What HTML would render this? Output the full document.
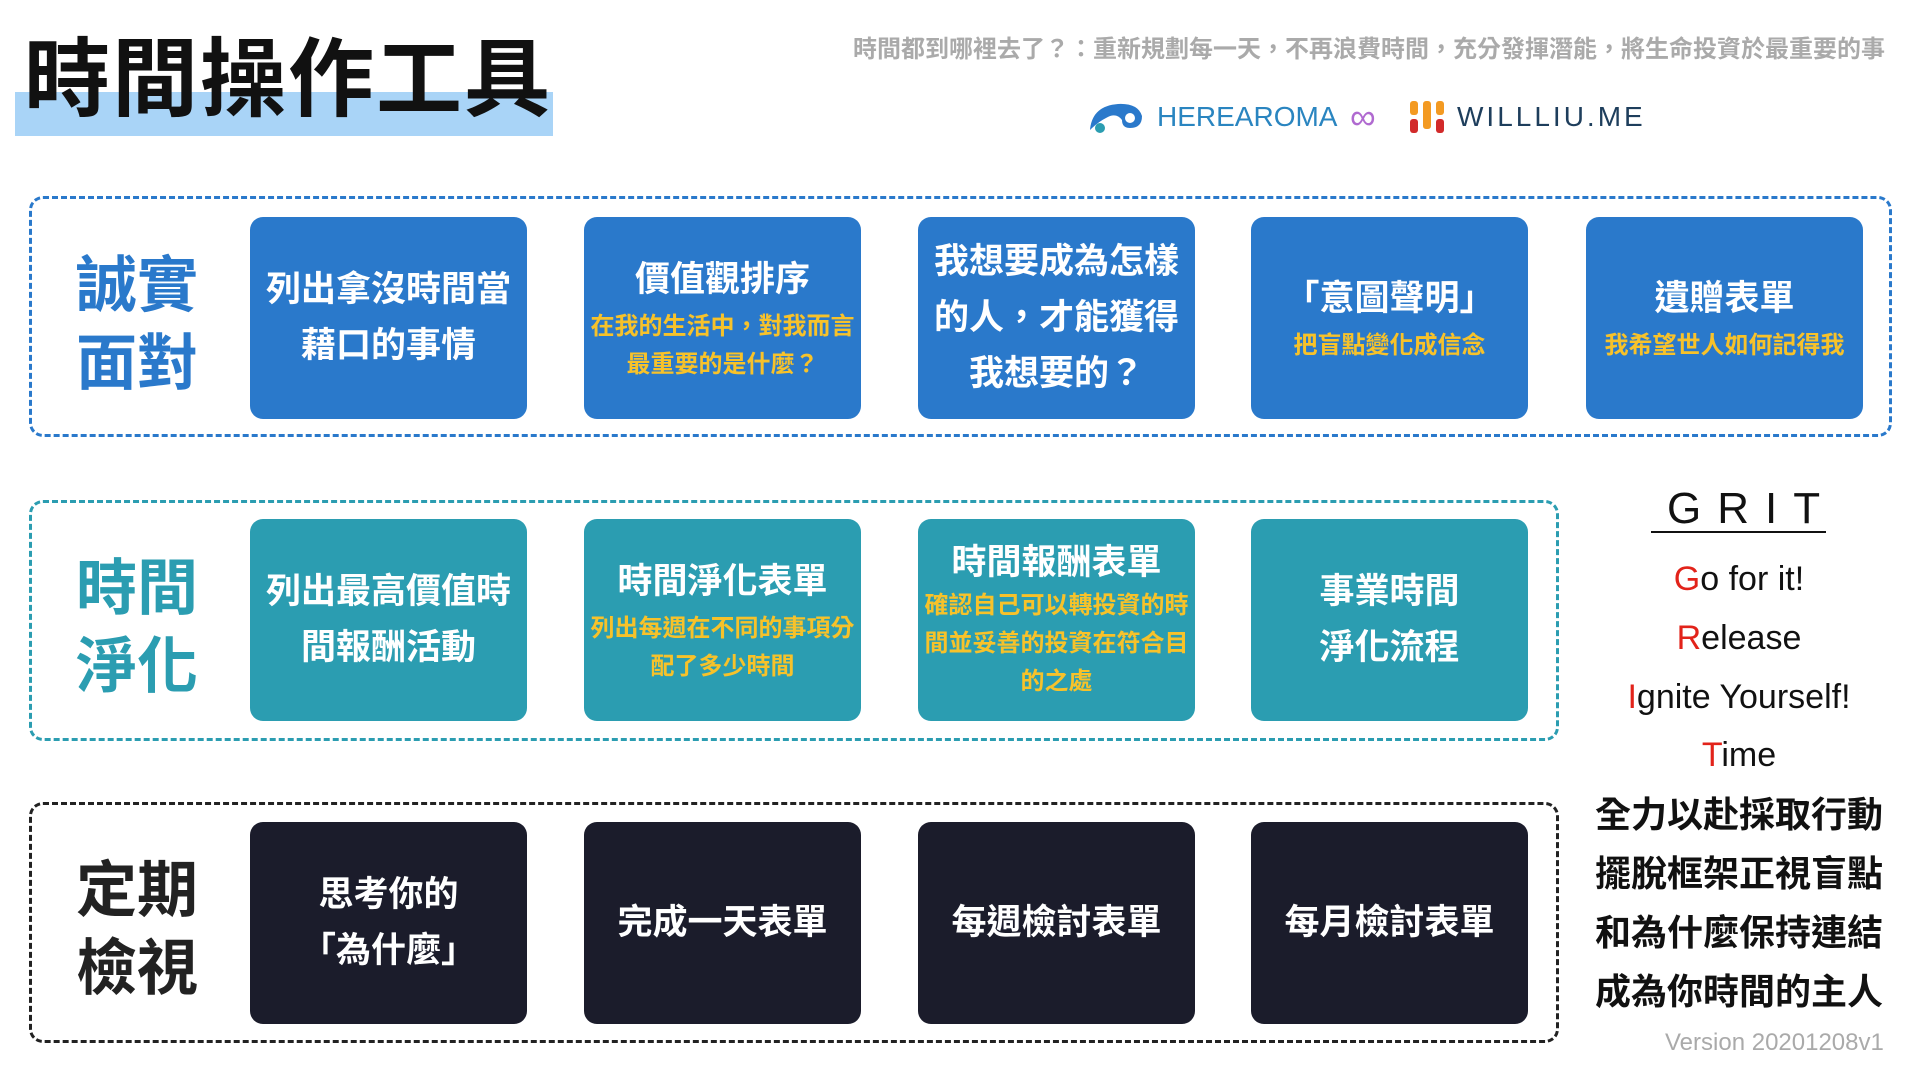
<!DOCTYPE html>
<html><head><meta charset="utf-8"><style>
*{margin:0;padding:0;box-sizing:border-box}
body{width:1920px;height:1080px;background:#fff;position:relative;overflow:hidden;font-family:"Liberation Sans","Noto Sans CJK TC",sans-serif}
.a{position:absolute}
.dash{position:absolute;border:3px dashed;border-radius:14px}
.box{position:absolute;width:277px;height:202px;border-radius:13px;color:#fff;display:flex;flex-direction:column;justify-content:center;align-items:center;text-align:center;font-weight:bold}
.m{font-size:35px;line-height:56px;white-space:nowrap}
.s{font-size:24px;line-height:38px;color:#f7c22a;white-space:nowrap}
.b{background:#2a79cb}.t{background:#2b9db1}.d{background:#1b1c2b}
.lab{position:absolute;left:76px;font-size:61px;font-weight:bold;line-height:78px;width:130px}
.g{position:absolute;left:1590px;width:298px;text-align:center;font-size:34px;color:#111;line-height:59px}
.g span{color:#e2231a}
.c{font-size:36px;font-weight:bold;white-space:nowrap}
</style></head><body>
<div class="a" style="left:15px;top:92px;width:538px;height:44px;background:#a9d4f7"></div>
<div class="a" style="left:24px;top:30px;font-size:86px;font-weight:bold;color:#111;letter-spacing:2px;line-height:100px">時間操作工具</div>
<div class="a" style="left:853px;top:29px;font-size:24px;color:#aaa;white-space:nowrap;font-weight:bold">時間都到哪裡去了？：重新規劃每一天，不再浪費時間，充分發揮潛能，將生命投資於最重要的事</div>
<svg class="a" style="left:1086px;top:100px" width="60" height="36" viewBox="0 0 60 36"><path d="M4 30 Q6 6 32 4 Q52 3 56 16 Q56 28 44 28 Q36 28 36 20 Q30 12 20 18 Q12 22 4 30Z" fill="#2a79cb"/><circle cx="14" cy="28" r="5" fill="#2b9db1"/><circle cx="44" cy="18" r="5" fill="#fff"/></svg>
<div class="a" style="left:1157px;top:101px;font-size:28px;color:#2a85c0;letter-spacing:0px">HEREAROMA</div>
<div class="a" style="left:1350px;top:96px;font-size:36px;color:#b06ad0">∞</div>
<div class="a" style="left:1410px;top:101px;width:8px;height:14px;background:#f39a22;border-radius:3px"></div>
<div class="a" style="left:1423px;top:101px;width:8px;height:28px;background:#f39a22;border-radius:3px"></div>
<div class="a" style="left:1436px;top:101px;width:8px;height:14px;background:#f39a22;border-radius:3px"></div>
<div class="a" style="left:1410px;top:119px;width:8px;height:14px;background:#d22a2a;border-radius:3px"></div>
<div class="a" style="left:1436px;top:119px;width:8px;height:14px;background:#d22a2a;border-radius:3px"></div>
<div class="a" style="left:1457px;top:101px;font-size:28px;color:#1e3e5c;letter-spacing:3px">WILLLIU.ME</div>

<div class="dash" style="left:29px;top:196px;width:1863px;height:241px;border-color:#2a79cb"></div>
<div class="dash" style="left:29px;top:500px;width:1530px;height:241px;border-color:#2b9db1"></div>
<div class="dash" style="left:29px;top:802px;width:1530px;height:241px;border-color:#222"></div>

<div class="lab" style="top:246px;color:#2a79cb">誠實<br>面對</div>
<div class="lab" style="top:549px;color:#2b9db1">時間<br>淨化</div>
<div class="lab" style="top:851px;color:#222">定期<br>檢視</div>

<div class="box b" style="left:250px;top:217px"><div class="m">列出拿沒時間當<br>藉口的事情</div></div>
<div class="box b" style="left:584px;top:217px"><div class="m">價值觀排序</div><div class="s">在我的生活中，對我而言<br>最重要的是什麼？</div></div>
<div class="box b" style="left:918px;top:217px"><div class="m">我想要成為怎樣<br>的人，才能獲得<br>我想要的？</div></div>
<div class="box b" style="left:1251px;top:217px"><div class="m">「意圖聲明」</div><div class="s">把盲點變化成信念</div></div>
<div class="box b" style="left:1586px;top:217px"><div class="m">遺贈表單</div><div class="s">我希望世人如何記得我</div></div>

<div class="box t" style="left:250px;top:519px"><div class="m">列出最高價值時<br>間報酬活動</div></div>
<div class="box t" style="left:584px;top:519px"><div class="m">時間淨化表單</div><div class="s">列出每週在不同的事項分<br>配了多少時間</div></div>
<div class="box t" style="left:918px;top:519px"><div class="m" style="line-height:48px">時間報酬表單</div><div class="s">確認自己可以轉投資的時<br>間並妥善的投資在符合目<br>的之處</div></div>
<div class="box t" style="left:1251px;top:519px"><div class="m">事業時間<br>淨化流程</div></div>

<div class="box d" style="left:250px;top:822px"><div class="m">思考你的<br>「為什麼」</div></div>
<div class="box d" style="left:584px;top:822px"><div class="m">完成一天表單</div></div>
<div class="box d" style="left:918px;top:822px"><div class="m">每週檢討表單</div></div>
<div class="box d" style="left:1251px;top:822px"><div class="m">每月檢討表單</div></div>

<div class="a" style="left:1651px;top:484px;width:175px;text-align:center;font-size:44px;letter-spacing:16px;padding-left:16px;color:#111;line-height:50px">GRIT</div>
<div class="a" style="left:1651px;top:531px;width:175px;height:2px;background:#111"></div>
<div class="g" style="top:550px"><span>G</span>o for it!</div>
<div class="g" style="top:609px"><span>R</span>elease</div>
<div class="g" style="top:668px"><span>I</span>gnite Yourself!</div>
<div class="g" style="top:726px"><span>T</span>ime</div>
<div class="g c" style="top:785px">全力以赴採取行動</div>
<div class="g c" style="top:844px">擺脫框架正視盲點</div>
<div class="g c" style="top:903px">和為什麼保持連結</div>
<div class="g c" style="top:962px">成為你時間的主人</div>
<div class="a" style="left:1665px;top:1029px;font-size:24px;color:#aaa">Version 20201208v1</div>
</body></html>
